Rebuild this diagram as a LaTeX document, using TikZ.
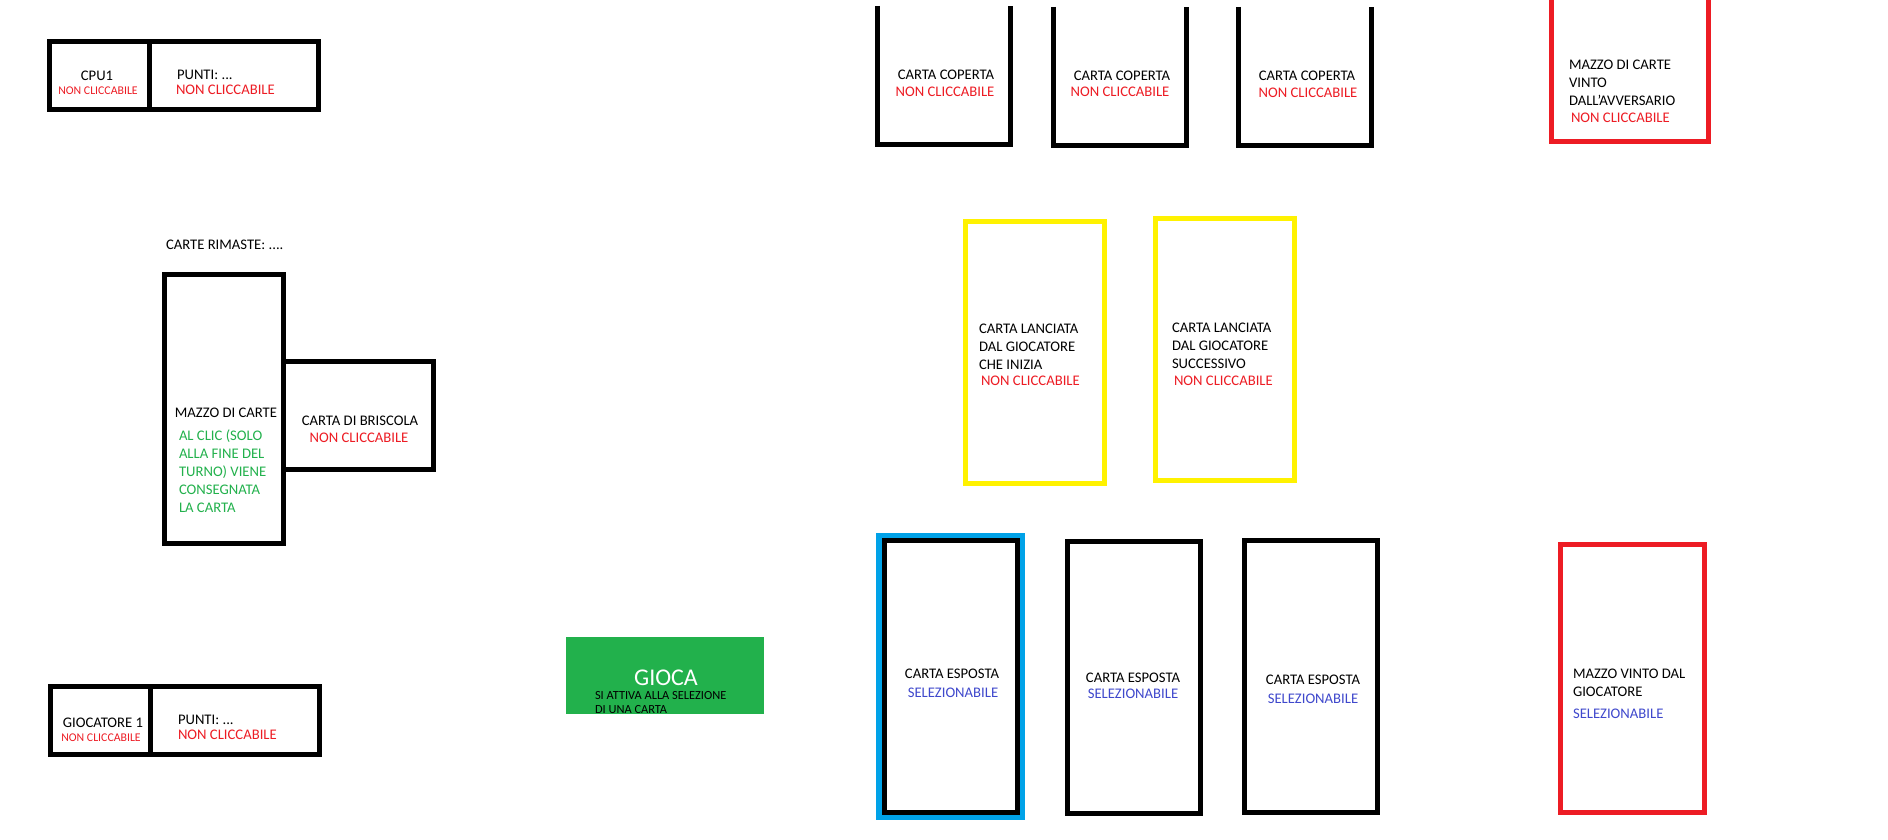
\documentclass[tikz,border=0pt]{standalone}
\usepackage{fontspec}
\setmainfont{Carlito}
\definecolor{pred}{RGB}{237,28,36}
\definecolor{pgreen}{RGB}{34,177,76}
\definecolor{pyellow}{RGB}{255,242,0}
\definecolor{pblue}{RGB}{0,162,232}
\definecolor{pindigo}{RGB}{63,72,204}
\tikzset{
  txt/.style={inner sep=0pt, outer sep=0pt, text=black, font=\fontsize{14.67}{18}\selectfont},
  small/.style={txt, font=\fontsize{11.8}{14}\selectfont},
  nc/.style={txt, text=pred},
  ncs/.style={small, text=pred},
  sel/.style={txt, text=pindigo},
  grn/.style={txt, text=pgreen},
  box/.style={draw=black, line width=5pt, line join=miter},
  redbox/.style={draw=pred, line width=5pt, line join=miter},
  yelbox/.style={draw=pyellow, line width=5pt, line join=miter},
  bluebox/.style={draw=pblue, line width=5.5pt, line join=miter},
}
\begin{document}
\begin{tikzpicture}[x=1pt, y=-1pt]
\fill[white] (0,0) rectangle (1888,840);
\useasboundingbox (0,0) rectangle (1888,840);

% ---- CPU row
\draw[box] (49.5,41.5) rectangle (318.5,109.5);
\draw[box] (149.5,41.5) -- (149.5,109.5);
\node[txt, anchor=base] (cpu) at (97,81) {CPU1};
\node[ncs, anchor=base] (cpunc) at (98,95) {NON CLICCABILE};
\node[txt, anchor=base west] (cpupts) at (177,80) {PUNTI: ...};
\node[nc, anchor=base west] (cpuptsnc) at (176,95) {NON CLICCABILE};

% ---- deck
\node[txt, anchor=base west] (rimaste) at (166,249) {CARTE RIMASTE: ....};
\draw[box] (164.5,274.5) rectangle (283.5,543.5);
\draw[box] (283.5,361.5) rectangle (433.5,469.5);
\node[txt, anchor=base] (mazzo) at (226,417) {MAZZO DI CARTE};
\node[grn, anchor=base west] (g1) at (179,440) {AL CLIC (SOLO};
\node[grn, anchor=base west] (g2) at (179,458) {ALLA FINE DEL};
\node[grn, anchor=base west] (g3) at (179,476) {TURNO) VIENE};
\node[grn, anchor=base west] (g4) at (179,494) {CONSEGNATA};
\node[grn, anchor=base west] (g5) at (179,512) {LA CARTA};
\node[txt, anchor=base] (brisc) at (360,425) {CARTA DI BRISCOLA};
\node[nc, anchor=base] (briscnc) at (359,442) {NON CLICCABILE};

% ---- player row
\draw[box] (50.5,686.5) rectangle (319.5,754.5);
\draw[box] (150.5,686.5) -- (150.5,754.5);
\node[txt, anchor=base] (gioc) at (103,727) {GIOCATORE 1};
\node[ncs, anchor=base] (giocnc) at (101,741) {NON CLICCABILE};
\node[txt, anchor=base west] (giocpts) at (178,724) {PUNTI: ...};
\node[nc, anchor=base west] (giocptsnc) at (178,739) {NON CLICCABILE};

% ---- GIOCA button
\fill[pgreen] (566,637) rectangle (764,714);
\node[txt, text=white, font=\fontsize{24}{28}\selectfont, anchor=base] (gioca) at (666,685) {GIOCA};
\node[txt, font=\fontsize{12.4}{14}\selectfont, anchor=base west] (att1) at (595,699) {SI ATTIVA ALLA SELEZIONE};
\node[txt, font=\fontsize{12.4}{14}\selectfont, anchor=base west] (att2) at (595,713) {DI UNA CARTA};

% ---- opponent covered cards
\draw[box] (877.5,6) -- (877.5,144.5) -- (1010.5,144.5) -- (1010.5,6);
\draw[box] (1053.5,7) -- (1053.5,145.5) -- (1186.5,145.5) -- (1186.5,7);
\draw[box] (1238.5,7) -- (1238.5,145.5) -- (1371.5,145.5) -- (1371.5,7);
\node[txt, anchor=base] (cc1) at (946,80) {CARTA COPERTA};
\node[nc, anchor=base] (cc1nc) at (945,97) {NON CLICCABILE};
\node[txt, anchor=base] (cc2) at (1122,81) {CARTA COPERTA};
\node[nc, anchor=base] (cc2nc) at (1120,97) {NON CLICCABILE};
\node[txt, anchor=base] (cc3) at (1307,81) {CARTA COPERTA};
\node[nc, anchor=base] (cc3nc) at (1308,98) {NON CLICCABILE};

% ---- opponent won deck
\draw[redbox] (1551.5,0) -- (1551.5,141.5) -- (1708.5,141.5) -- (1708.5,0);
\node[txt, anchor=base west] (ov1) at (1569,70) {MAZZO DI CARTE};
\node[txt, anchor=base west] (ov2) at (1569,88) {VINTO};
\node[txt, anchor=base west] (ov3) at (1569,106) {DALL'AVVERSARIO};
\node[nc, anchor=base west] (ovnc) at (1571,123) {NON CLICCABILE};

% ---- played cards
\draw[yelbox] (965.5,221.5) rectangle (1104.5,483.5);
\draw[yelbox] (1155.5,218.5) rectangle (1294.5,480.5);
\node[txt, anchor=base west] (l1a) at (979,333) {CARTA LANCIATA};
\node[txt, anchor=base west] (l1b) at (979,351) {DAL GIOCATORE};
\node[txt, anchor=base west] (l1c) at (979,369) {CHE INIZIA};
\node[nc, anchor=base west] (l1nc) at (981,385) {NON CLICCABILE};
\node[txt, anchor=base west] (l2a) at (1172,332) {CARTA LANCIATA};
\node[txt, anchor=base west] (l2b) at (1172,350) {DAL GIOCATORE};
\node[txt, anchor=base west] (l2c) at (1172,368) {SUCCESSIVO};
\node[nc, anchor=base west] (l2nc) at (1174,385) {NON CLICCABILE};

% ---- player cards
\draw[bluebox] (879,535.5) rectangle (1022.5,817);
\draw[box] (884.5,540.5) rectangle (1017.5,812.5);
\draw[box] (1067.5,541.5) rectangle (1200.5,813.5);
\draw[box] (1244.5,540.5) rectangle (1377.5,812.5);
\node[txt, anchor=base] (ce1) at (952,678) {CARTA ESPOSTA};
\node[sel, anchor=base] (ce1s) at (953,697) {SELEZIONABILE};
\node[txt, anchor=base] (ce2) at (1133,682) {CARTA ESPOSTA};
\node[sel, anchor=base] (ce2s) at (1133,698) {SELEZIONABILE};
\node[txt, anchor=base] (ce3) at (1313,684) {CARTA ESPOSTA};
\node[sel, anchor=base] (ce3s) at (1313,703) {SELEZIONABILE};

% ---- player won deck
\draw[redbox] (1560.5,544.5) rectangle (1704.5,812.5);
\node[txt, anchor=base west] (pv1) at (1573,678) {MAZZO VINTO DAL};
\node[txt, anchor=base west] (pv2) at (1573,696) {GIOCATORE};
\node[sel, anchor=base west] (pvs) at (1573,718) {SELEZIONABILE};
\end{tikzpicture}
\end{document}
